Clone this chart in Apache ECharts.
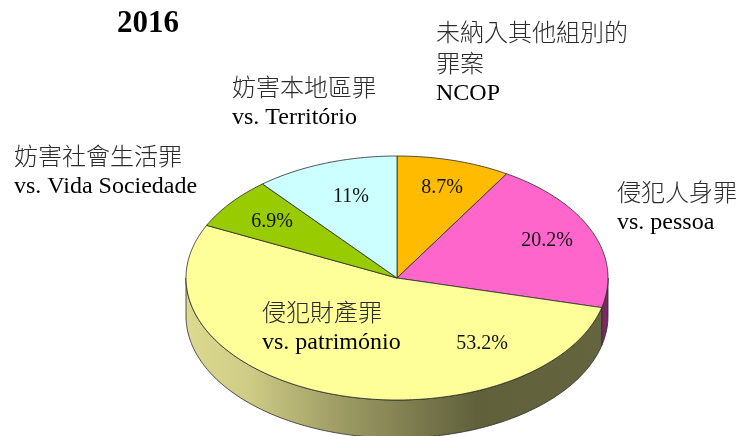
<!DOCTYPE html>
<html>
<head>
<meta charset="utf-8">
<script src="https://cdn.jsdelivr.net/npm/echarts@6/dist/echarts.min.js"></script>
<style>
    html, body { margin: 0; padding: 0; background: #fff; }
    #chart { width: 738px; height: 436px; }
</style>
</head>
<body>
<div id="chart"></div>
<script>
// data, clockwise from 12 o'clock
const title = "2016";
const namesZh = [["未納入其他組別的", "罪案"], ["侵犯人身罪"], ["侵犯財產罪"], ["妨害社會生活罪"], ["妨害本地區罪"]];
const namesPt = ["NCOP", "vs. pessoa", "vs. património", "vs. Vida Sociedade", "vs. Território"];
const shares = [8.7, 20.2, 53.2, 6.9, 11];

// looks
const topColors = ["#FFBB00", "#FF66CC", "#FFFF99", "#99CC00", "#CCFFFF"];
const sideColors = ["#805e00", "#7a2a62", null, "#4d6600", "#667f7f"];
const CX = 397, CY = 278, RX = 211, RY = 122, DEPTH = 38;
// where the text sits: [x, y of first line centre]
const namePos = [[436, 32], [617, 192], [262, 312], [14, 156], [232, 87]];
const pctPos = [[442, 188], [547, 241], [482, 344], [272, 222], [351, 197]];
const LINE = 31;

const total = shares.reduce((a, b) => a + b, 0);
const starts = [];
shares.reduce((acc, v) => { starts.push(acc / total * 360); return acc + v; }, 0);

function pt(a, dy) {
    const r = a * Math.PI / 180;
    return [CX + RX * Math.sin(r), CY - RY * Math.cos(r) + (dy || 0)];
}
function arc(a0, a1, dy) {
    const pts = [];
    const n = Math.max(2, Math.ceil(Math.abs(a1 - a0)));
    for (let i = 0; i <= n; i++) pts.push(pt(a0 + (a1 - a0) * i / n, dy));
    return pts;
}

const yellowSide = new echarts.graphic.LinearGradient(0, 0, 1, 0, [
    { offset: 0, color: "#dcd990" },
    { offset: 0.15, color: "#cfcc86" },
    { offset: 0.35, color: "#a2a067" },
    { offset: 0.7, color: "#60603b" },
    { offset: 1, color: "#64643e" },
]);

function renderItem(params, api) {
    const i = params.dataIndex;
    const v = api.value(0);
    const a0 = starts[i];
    const a1 = a0 + v / total * 360;
    const children = [];
    const s = Math.max(a0, 90), e = Math.min(a1, 270);
    if (s < e) {
        children.push({
            type: "polygon",
            shape: { points: arc(s, e, 0).concat(arc(e, s, DEPTH)) },
            style: { fill: sideColors[i] || yellowSide, stroke: "#2a2a2a", lineWidth: 0.8 },
        });
    }
    children.push({
        type: "polygon",
        shape: { points: [[CX, CY]].concat(arc(a0, a1, 0)) },
        style: { fill: topColors[i], stroke: "#2a2a2a", lineWidth: 0.8 },
    });
    children.push({
        type: "text", z2: 10,
        style: {
            text: v + "%", x: pctPos[i][0], y: pctPos[i][1],
            align: "center", verticalAlign: "middle",
            font: "20px 'Liberation Serif'", fill: "#111",
        },
    });
    const lines = namesZh[i].map((t) => ({ t, f: "300 24px 'Noto Sans CJK TC'", c: "#2b2b2b" }))
        .concat([{ t: namesPt[i], f: "24px 'Liberation Serif'", c: "#000" }]);
    lines.forEach((l, k) => {
        children.push({
            type: "text", z2: 10,
            style: {
                text: l.t, x: namePos[i][0], y: namePos[i][1] + k * LINE,
                align: "left", verticalAlign: "middle", font: l.f, fill: l.c,
            },
        });
    });
    return { type: "group", children };
}

const chart = echarts.init(document.getElementById("chart"));
chart.setOption({
    backgroundColor: "#fff",
    animation: false,
    title: {
        text: title,
        left: 143, top: 3,
        textAlign: "center",
        textStyle: { fontFamily: "Liberation Serif", fontWeight: "bold", fontSize: 31, color: "#000" },
    },
    series: [{
        type: "custom",
        coordinateSystem: "none",
        renderItem,
        data: shares.map((v) => [v]),
    }],
});
</script>
</body>
</html>
